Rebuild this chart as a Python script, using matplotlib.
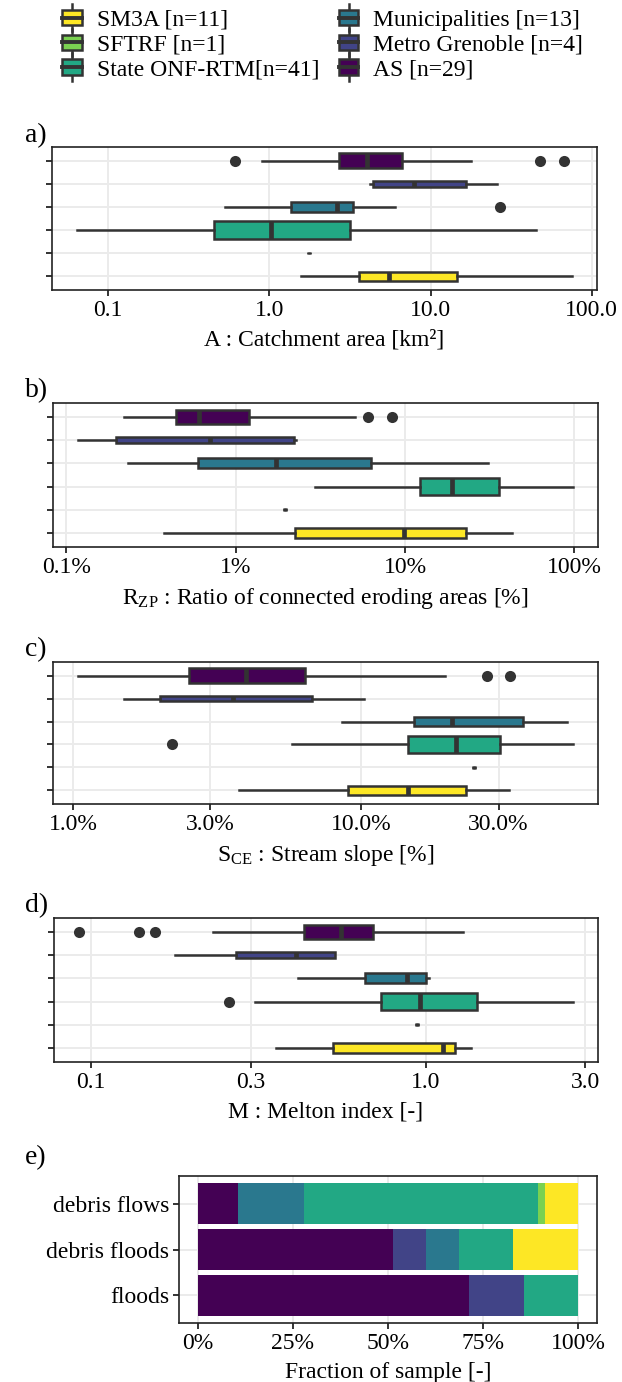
import numpy as np
import matplotlib as mpl
mpl.use('Agg')
import matplotlib.pyplot as plt
from matplotlib.patches import Patch, Rectangle
from matplotlib.lines import Line2D
from matplotlib.legend_handler import HandlerBase
from matplotlib.ticker import NullLocator

plt.rcParams['font.family'] = ['Liberation Serif', 'DejaVu Serif']
plt.rcParams['mathtext.fontset'] = 'custom'
plt.rcParams['mathtext.rm'] = 'Liberation Serif'
plt.rcParams['mathtext.it'] = 'Liberation Serif:italic'

# groups, listed bottom to top as they appear in the box plots
groups = ['SM3A', 'SFTRF', 'State ONF-RTM', 'Municipalities', 'Metro Grenoble', 'AS']
group_n = [11, 1, 41, 13, 4, 29]
legend_labels = ['SM3A [n=11]', 'SFTRF [n=1]', 'State ONF-RTM[n=41]',
                 'Municipalities [n=13]', 'Metro Grenoble [n=4]', 'AS [n=29]']
group_colors = ['#FDE725', '#7AD151', '#22A884', '#2A788E', '#414487', '#440154']

# a) catchment area [km2]
area_low = [1.56, 1.77, 0.0638, 0.53, 4.24, 0.90]
area_q1 = [3.61, 1.77, 0.456, 1.37, 4.40, 2.72]
area_med = [5.54, 1.77, 1.02, 2.64, 7.92, 4.05]
area_q3 = [14.6, 1.77, 3.17, 3.32, 16.6, 6.64]
area_high = [75.7, 1.77, 45.1, 6.03, 26.0, 17.9]
area_out = [[], [], [], [27.0], [], [0.61, 48.0, 67.2]]

# b) ratio of connected eroding areas [%]
rzp_low = [0.376, 1.95, 2.96, 0.233, 0.117, 0.22]
rzp_q1 = [2.23, 1.95, 12.2, 0.60, 0.196, 0.446]
rzp_med = [9.8, 1.95, 18.9, 1.74, 0.71, 0.61]
rzp_q3 = [23.0, 1.95, 36.0, 6.27, 2.21, 1.20]
rzp_high = [42.9, 1.95, 98.4, 30.8, 2.28, 5.05]
rzp_out = [[], [], [], [], [], [6.07, 8.4]]

# c) stream slope [%]
slope_low = [3.78, 24.7, 5.75, 8.56, 1.51, 1.04]
slope_q1 = [9.03, 24.7, 14.5, 15.3, 2.0, 2.52]
slope_med = [14.5, 24.7, 21.4, 20.7, 3.6, 3.99]
slope_q3 = [23.2, 24.7, 30.4, 36.5, 6.75, 6.41]
slope_high = [32.5, 24.7, 54.5, 51.8, 10.2, 19.5]
slope_out = [[], [], [2.21], [], [], [27.4, 32.8]]

# d) Melton index [-]
melton_low = [0.357, 0.94, 0.31, 0.416, 0.178, 0.231]
melton_q1 = [0.53, 0.94, 0.736, 0.657, 0.272, 0.434]
melton_med = [1.13, 0.94, 0.962, 0.879, 0.409, 0.56]
melton_q3 = [1.22, 0.94, 1.42, 1.005, 0.535, 0.695]
melton_high = [1.37, 0.94, 2.76, 1.02, 0.535, 1.29]
melton_out = [[], [], [0.259], [], [], [0.0919, 0.139, 0.155]]

# e) fraction of sample per process type [%]
event_types = ['floods', 'debris floods', 'debris flows']
frac_as = [71.4, 51.4, 10.5]
frac_metro = [14.3, 8.6, 0.0]
frac_muni = [0.0, 8.6, 17.5]
frac_state = [14.3, 14.3, 61.4]
frac_sftrf = [0.0, 0.0, 1.8]
frac_sm3a = [0.0, 17.1, 8.8]

edge = '#333333'
grid_col = '#EBEBEB'
fs = 17


def style_axes(ax):
    ax.set_axisbelow(True)
    ax.grid(True, color=grid_col, linewidth=1.4)
    for s in ax.spines.values():
        s.set_color('#222222')
        s.set_linewidth(1.2)
    ax.tick_params(axis='both', length=4, width=1.4, color=edge, labelsize=fs, pad=3)


def box_panel(ax, low, q1, med, q3, high, out, ticks, ticklabels, xlabel):
    stats = []
    for i in range(len(groups)):
        stats.append(dict(whislo=low[i], q1=q1[i], med=med[i], q3=q3[i],
                          whishi=high[i], fliers=out[i]))
    pos = np.arange(1, len(groups) + 1)
    widths = [0.76 * np.sqrt(n / max(group_n)) for n in group_n]
    bp = ax.bxp(stats, positions=pos, widths=widths, orientation='horizontal',
                patch_artist=True, showcaps=False,
                boxprops=dict(edgecolor=edge, linewidth=1.8),
                whiskerprops=dict(color=edge, linewidth=1.8),
                medianprops=dict(color=edge, linewidth=3.4, solid_capstyle='butt'),
                flierprops=dict(marker='o', markerfacecolor=edge,
                                markeredgecolor='none', markersize=8))
    for b, c in zip(bp['boxes'], group_colors):
        b.set_facecolor(c)
    ax.set_xscale('log')
    allv = np.concatenate([low, high] + [np.array(o) for o in out if o])
    lo, hi = np.log10(allv.min()), np.log10(allv.max())
    r = hi - lo
    ax.set_xlim(10 ** (lo - 0.05 * r), 10 ** (hi + 0.05 * r))
    ax.set_ylim(0.4, len(groups) + 0.6)
    ax.set_yticks(pos)
    ax.set_yticklabels([])
    ax.set_xticks(ticks)
    ax.set_xticklabels(ticklabels)
    ax.xaxis.set_minor_locator(NullLocator())
    style_axes(ax)
    ax.set_xlabel(xlabel, fontsize=fs, labelpad=6)


W, H = 622, 1382
fig = plt.figure(figsize=(W / 100, H / 100), dpi=100)


def add_ax(left, top, right, bottom):
    return fig.add_axes([left / W, 1 - bottom / H, (right - left) / W, (bottom - top) / H])


ax_a = add_ax(52, 147, 597, 290)
ax_b = add_ax(53, 403, 598, 547)
ax_c = add_ax(53, 662, 598, 804)
ax_d = add_ax(54, 918, 598, 1062)
ax_e = add_ax(179, 1176, 597, 1323)

box_panel(ax_a, area_low, area_q1, area_med, area_q3, area_high, area_out,
          [0.1, 1, 10, 100], ['0.1', '1.0', '10.0', '100.0'],
          'A : Catchment area [km²]')
box_panel(ax_b, rzp_low, rzp_q1, rzp_med, rzp_q3, rzp_high, rzp_out,
          [0.1, 1, 10, 100], ['0.1%', '1%', '10%', '100%'],
          'R$_{\\mathrm{ZP}}$ : Ratio of connected eroding areas [%]')
box_panel(ax_c, slope_low, slope_q1, slope_med, slope_q3, slope_high, slope_out,
          [1, 3, 10, 30], ['1.0%', '3.0%', '10.0%', '30.0%'],
          'S$_{\\mathrm{CE}}$ : Stream slope [%]')
box_panel(ax_d, melton_low, melton_q1, melton_med, melton_q3, melton_high, melton_out,
          [0.1, 0.3, 1, 3], ['0.1', '0.3', '1.0', '3.0'],
          'M : Melton index [-]')

# e) stacked bars, stack order from the left
stack = [frac_as, frac_metro, frac_muni, frac_state, frac_sftrf, frac_sm3a]
stack_colors = ['#440154', '#414487', '#2A788E', '#22A884', '#7AD151', '#FDE725']
ypos = np.arange(1, len(event_types) + 1)
left = np.zeros(len(event_types))
for vals, col in zip(stack, stack_colors):
    ax_e.barh(ypos, vals, left=left, height=0.9, color=col, linewidth=0)
    left = left + np.array(vals)
ax_e.set_xlim(-5, 105)
ax_e.set_ylim(0.4, len(event_types) + 0.6)
ax_e.set_yticks(ypos)
ax_e.set_yticklabels(event_types)
ax_e.set_xticks([0, 25, 50, 75, 100])
ax_e.set_xticklabels(['0%', '25%', '50%', '75%', '100%'])
style_axes(ax_e)
ax_e.set_xlabel('Fraction of sample [-]', fontsize=fs, labelpad=6)

# panel letters
for lab, y in zip(['a)', 'b)', 'c)', 'd)', 'e)'], [136, 391, 650, 906, 1158]):
    fig.text(25 / W, 1 - y / H, lab, fontsize=20, ha='left', va='center')


class BoxKey(HandlerBase):
    def create_artists(self, legend, orig_handle, xdescent, ydescent, width, height,
                       fontsize, trans):
        cx = -xdescent + width / 2
        y0 = -ydescent
        bw = 14
        whisk = Line2D([cx, cx], [y0 - 0.3 * height, y0 + 1.3 * height],
                       color=edge, linewidth=1.8, transform=trans)
        box = Rectangle((cx - bw / 2, y0 + 0.05 * height), bw, 0.9 * height,
                        facecolor=orig_handle.get_facecolor(), edgecolor=edge,
                        linewidth=1.8, transform=trans)
        med = Line2D([cx - bw / 2, cx + bw / 2], [y0 + 0.5 * height] * 2,
                     color=edge, linewidth=2.8, transform=trans)
        return [whisk, box, med]


handles = [Patch(facecolor=c, label=l) for c, l in zip(group_colors, legend_labels)]
fig.legend(handles=handles, ncol=2, loc='upper left', bbox_to_anchor=(60 / W, 1 - 9 / H),
           frameon=False, fontsize=fs, handler_map={Patch: BoxKey()},
           handlelength=1.0, handleheight=0.75, handletextpad=0.55,
           labelspacing=0.12, columnspacing=0.75, borderpad=0, borderaxespad=0)

fig.savefig('out.png', dpi=100)
